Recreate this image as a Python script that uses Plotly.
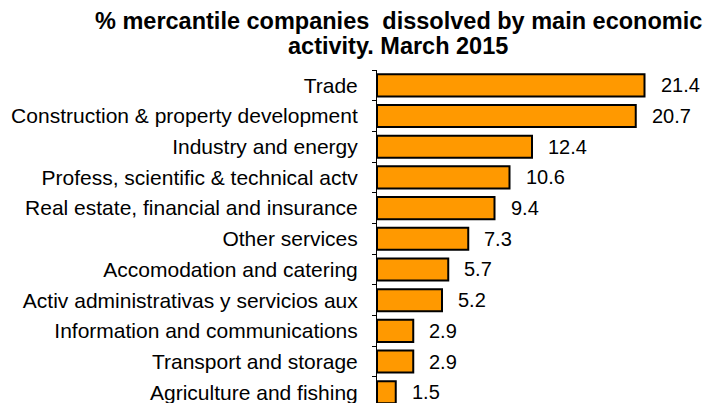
import plotly.graph_objects as go

categories = [
    "Trade",
    "Construction & property development",
    "Industry and energy",
    "Profess, scientific & technical actv",
    "Real estate, financial and insurance",
    "Other services",
    "Accomodation and catering",
    "Activ administrativas y servicios aux",
    "Information and communications",
    "Transport and storage",
    "Agriculture and fishing",
]
values = [21.4, 20.7, 12.4, 10.6, 9.4, 7.3, 5.7, 5.2, 2.9, 2.9, 1.5]
value_labels = [f"{v:.1f}" for v in values]

title_lines = ["% mercantile companies  dissolved by main economic",
               "activity. March 2015"]

FONT = "Liberation Sans, Arial, sans-serif"
W = 705
H = 403
TOP = 70
LEFT = 377
PLOT_H = H - TOP
PLOT_W = W - LEFT


def paper_y(px):
    return 1 + (TOP - px) / PLOT_H


def paper_x(px):
    return (px - LEFT) / PLOT_W


fig = go.Figure()
fig.add_trace(go.Bar(
    x=values,
    y=categories,
    orientation="h",
    marker=dict(color="#FF9900", line=dict(color="#000000", width=2)),
    hoverinfo="skip",
))

annotations = []
for c, v, t in zip(categories, values, value_labels):
    annotations.append(dict(
        x=v, y=c, xref="x", yref="y", text=t, showarrow=False,
        xanchor="left", yanchor="middle", xshift=14,
        font=dict(family=FONT, size=20, color="#000000"),
    ))

for line, ypx in zip(title_lines, [21, 46]):
    annotations.append(dict(
        x=paper_x(398), xref="paper", y=paper_y(ypx), yref="paper",
        text=f"<b>{line}</b>", showarrow=False,
        xanchor="center", yanchor="middle",
        font=dict(family=FONT, size=23.5, color="#000000"),
    ))

fig.update_layout(
    width=W, height=H,
    margin=dict(l=LEFT, r=0, t=TOP, b=0),
    paper_bgcolor="white", plot_bgcolor="white",
    showlegend=False,
    bargap=0.28,
    annotations=annotations,
    xaxis=dict(
        range=[0, 26.24], visible=False, fixedrange=True,
    ),
    yaxis=dict(
        type="category",
        categoryorder="array", categoryarray=categories,
        range=[10.35, -0.5],
        showline=True, linecolor="#000000", linewidth=1,
        ticks="outside", ticklen=4, tickcolor="#000000", tickwidth=1,
        tickson="boundaries",
        tickfont=dict(family=FONT, size=21, color="#000000"),
        ticklabelstandoff=14,
        showgrid=False, zeroline=False,
        automargin=False,
    ),
)

fig.write_html(
    "out.html",
    config={"displayModeBar": False},
    post_script="document.body.style.margin='0';document.body.style.overflow='hidden';",
)
